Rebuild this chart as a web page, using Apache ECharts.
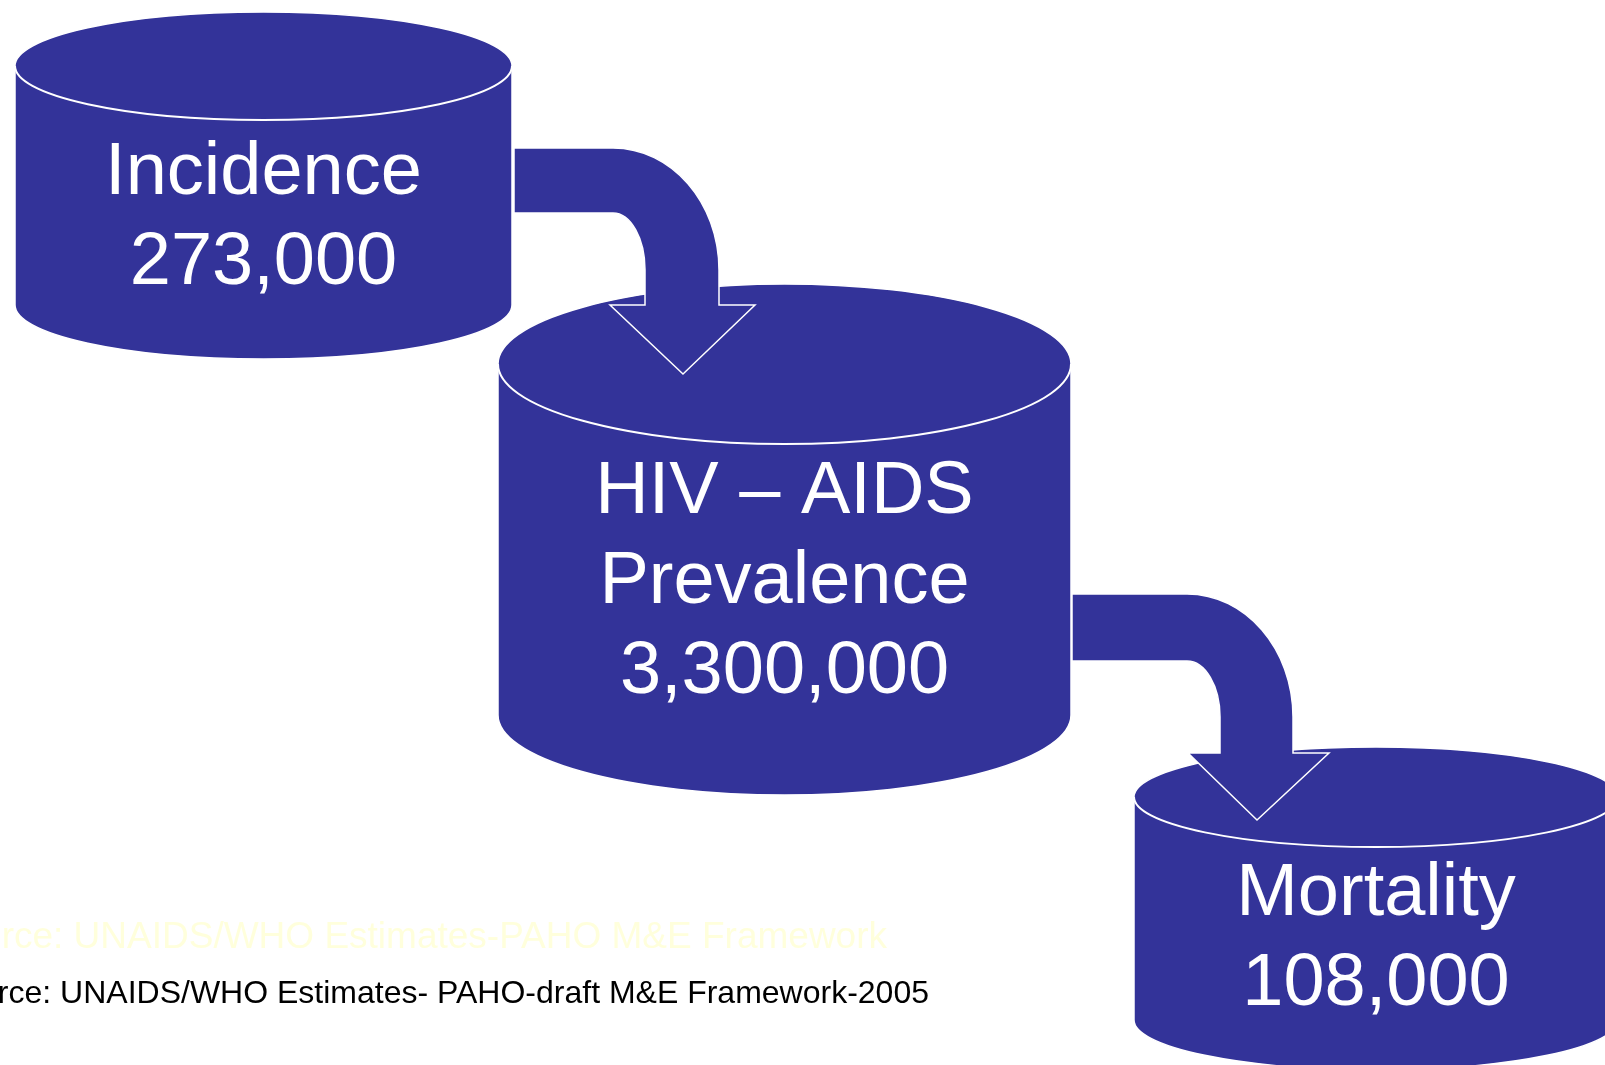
<!DOCTYPE html>
<html>
<head>
<meta charset="utf-8">
<script src="https://cdn.jsdelivr.net/npm/echarts@6/dist/echarts.min.js"></script>
<style>
  html, body { margin: 0; padding: 0; background: #fff; }
  #main { width: 1605px; height: 1065px; }
</style>
</head>
<body>
<div id="main"></div>
<script>
// data
const stageNames = ['Incidence', 'HIV – AIDS\nPrevalence', 'Mortality']
const stageValues = [273000, 3300000, 108000]
const flowLinks = [[0, 1], [1, 2]]
const sourceNotes = [
  'Source: UNAIDS/WHO Estimates-PAHO M&E Framework',
  'Source: UNAIDS/WHO Estimates- PAHO-draft M&E Framework-2005'
]

// layout of the slide (slide units = px of a 1605 x 1065 page)
const cylinders = [
  { cx: 263.5, rx: 248.5, top: 66, bottom: 305, ry: 54, textY: 218.5 },
  { cx: 784.5, rx: 286.5, top: 364, bottom: 715, ry: 80, textY: 582.5 },
  { cx: 1376, rx: 242, top: 797, bottom: 1020, ry: 50, textY: 939.5 }
]
const arrows = [
  { x0: 514, y0: 148, band: 65, bend: 613, xIn: 645, xOut: 719, ryOut: 122, ryIn: 57, yHead: 305, wingL: 610, wingR: 755, tipX: 683, tipY: 374 },
  { x0: 1072, y0: 594, band: 67, bend: 1187, xIn: 1220, xOut: 1293, ryOut: 123, ryIn: 56, yHead: 753, wingL: 1188, wingR: 1329, tipX: 1257, tipY: 820 }
]
const notes = [
  { right: 887, y: 937.5, size: 37, color: '#FFFFDC' },
  { right: 929, y: 994, size: 32, color: '#000000' }
]
const lineGap = 90
const fill = '#333399'
const fontFamily = '"Liberation Sans", Arial, Helvetica, sans-serif'

const chart = echarts.init(document.getElementById('main'))

function renderStage (params, api) {
  const i = api.value(0)
  const c = cylinders[i]
  const L = api.coord([c.cx - c.rx, c.top])
  const R = api.coord([c.cx + c.rx, c.top])
  const LB = api.coord([c.cx - c.rx, c.bottom])
  const RB = api.coord([c.cx + c.rx, c.bottom])
  const r = api.size([c.rx * 2, c.ry * 2]).map(v => v / 2)
  const body = `M${L[0]} ${L[1]} A${r[0]} ${r[1]} 0 0 1 ${R[0]} ${R[1]} ` +
    `L${RB[0]} ${RB[1]} A${r[0]} ${r[1]} 0 0 1 ${LB[0]} ${LB[1]} Z`
  const rim = `M${L[0]} ${L[1]} A${r[0]} ${r[1]} 0 0 0 ${R[0]} ${R[1]}`

  const lines = stageNames[i].split('\n').concat(stageValues[i].toLocaleString('en-US'))
  const texts = lines.map((t, k) => {
    const p = api.coord([c.cx, c.textY + (k - (lines.length - 1) / 2) * lineGap])
    return {
      type: 'text',
      x: p[0],
      y: p[1],
      z2: i * 2 + 0.5,
      style: {
        text: t,
        fill: '#fff',
        fontSize: 74,
        fontFamily: fontFamily,
        align: 'center',
        verticalAlign: 'middle'
      }
    }
  })

  return {
    type: 'group',
    children: [
      { type: 'path', z2: i * 2, shape: { pathData: body }, style: { fill: fill, stroke: '#fff', lineWidth: 1.5 } },
      { type: 'path', z2: i * 2 + 0.2, shape: { pathData: rim }, style: { fill: null, stroke: '#fff', lineWidth: 2 } }
    ].concat(texts)
  }
}

function renderFlow (params, api) {
  const j = params.dataIndex
  const a = arrows[j]
  const k = 0.5523
  const P = (x, y) => api.coord([x, y]).join(' ')
  const rxO = a.xOut - a.bend
  const rxI = a.xIn - a.bend
  const yb = a.y0 + a.band
  const d = [
    'M' + P(a.x0, a.y0),
    'L' + P(a.bend, a.y0),
    'C' + P(a.bend + k * rxO, a.y0) + ' ' + P(a.xOut, a.y0 + a.ryOut - k * a.ryOut) + ' ' + P(a.xOut, a.y0 + a.ryOut),
    'L' + P(a.xOut, a.yHead),
    'L' + P(a.wingR, a.yHead),
    'L' + P(a.tipX, a.tipY),
    'L' + P(a.wingL, a.yHead),
    'L' + P(a.xIn, a.yHead),
    'L' + P(a.xIn, yb + a.ryIn),
    'C' + P(a.xIn, yb + a.ryIn - k * a.ryIn) + ' ' + P(a.bend + k * rxI, yb) + ' ' + P(a.bend, yb),
    'L' + P(a.x0, yb),
    'Z'
  ].join(' ')
  // arrow sits above the source stage and the target's top
  const z2 = flowLinks[j][1] * 2 + 1
  return {
    type: 'path',
    z2: z2,
    shape: { pathData: d },
    style: { fill: fill, stroke: '#fff', lineWidth: 1.5 }
  }
}

const option = {
  animation: false,
  backgroundColor: '#fff',
  grid: { left: 0, right: 0, top: 0, bottom: 0 },
  xAxis: { type: 'value', min: 0, max: 1605, show: false },
  yAxis: { type: 'value', min: 0, max: 1065, inverse: true, show: false },
  graphic: sourceNotes.map((t, i) => ({
    type: 'text',
    x: notes[i].right,
    y: notes[i].y,
    style: {
      text: t,
      fill: notes[i].color,
      fontSize: notes[i].size,
      fontFamily: fontFamily,
      align: 'right',
      verticalAlign: 'middle'
    }
  })),
  series: [
    {
      type: 'custom',
      name: 'stages',
      renderItem: renderStage,
      data: stageValues.map((v, i) => [i, v])
    },
    {
      type: 'custom',
      name: 'flows',
      renderItem: renderFlow,
      data: flowLinks
    }
  ]
}

chart.setOption(option)
</script>
</body>
</html>
